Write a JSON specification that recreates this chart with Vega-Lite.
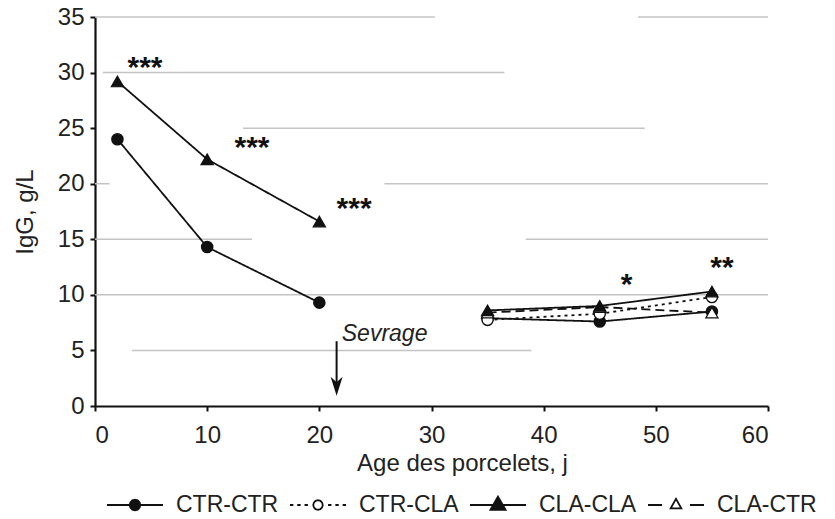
{
  "$schema": "https://vega.github.io/schema/vega-lite/v6.json",
  "width": 673,
  "height": 389,
  "autosize": "none",
  "padding": {"left": 95, "top": 17, "right": 67, "bottom": 113},
  "background": "white",
  "config": {
    "view": {"stroke": null},
    "font": "Liberation Sans",
    "axis": {
      "grid": false,
      "domainColor": "#111",
      "domainWidth": 2.2,
      "tickColor": "#111",
      "tickWidth": 2,
      "tickSize": 5,
      "labelFont": "Liberation Sans",
      "labelFontSize": 24,
      "labelColor": "#222",
      "titleFont": "Liberation Sans",
      "titleFontSize": 24,
      "titleFontWeight": "normal",
      "titleColor": "#222"
    }
  },
  "datasets": {
    "pts": [
      {"series": "CTR-CTR", "phase": "pre", "age": 2, "igg": 24.0},
      {"series": "CTR-CTR", "phase": "pre", "age": 10, "igg": 14.3},
      {"series": "CTR-CTR", "phase": "pre", "age": 20, "igg": 9.3},
      {"series": "CTR-CTR", "phase": "post", "age": 35, "igg": 7.9},
      {"series": "CTR-CTR", "phase": "post", "age": 45, "igg": 7.6},
      {"series": "CTR-CTR", "phase": "post", "age": 55, "igg": 8.5},
      {"series": "CTR-CLA", "phase": "post", "age": 35, "igg": 7.75},
      {"series": "CTR-CLA", "phase": "post", "age": 45, "igg": 8.3},
      {"series": "CTR-CLA", "phase": "post", "age": 55, "igg": 9.8},
      {"series": "CLA-CTR", "phase": "post", "age": 35, "igg": 8.4},
      {"series": "CLA-CTR", "phase": "post", "age": 45, "igg": 8.9},
      {"series": "CLA-CTR", "phase": "post", "age": 55, "igg": 8.4},
      {"series": "CLA-CLA", "phase": "pre", "age": 2, "igg": 29.2},
      {"series": "CLA-CLA", "phase": "pre", "age": 10, "igg": 22.2},
      {"series": "CLA-CLA", "phase": "pre", "age": 20, "igg": 16.6},
      {"series": "CLA-CLA", "phase": "post", "age": 35, "igg": 8.6},
      {"series": "CLA-CLA", "phase": "post", "age": 45, "igg": 9.0},
      {"series": "CLA-CLA", "phase": "post", "age": 55, "igg": 10.3}
    ],
    "grid": [
      {"y": 35, "x0": 0, "x1": 30.3},
      {"y": 35, "x0": 48.4, "x1": 60},
      {"y": 30, "x0": 0.7, "x1": 36.5},
      {"y": 25, "x0": 13.2, "x1": 49.0},
      {"y": 20, "x0": 0, "x1": 1.3},
      {"y": 20, "x0": 25.8, "x1": 60},
      {"y": 15, "x0": 0, "x1": 14.0},
      {"y": 15, "x0": 38.4, "x1": 60},
      {"y": 10, "x0": 0, "x1": 60},
      {"y": 5, "x0": 3.3, "x1": 38.9}
    ],
    "notes": [
      {"age": 4.46, "igg": 29.6, "label": "***"},
      {"age": 14.0, "igg": 22.4, "label": "***"},
      {"age": 23.1, "igg": 16.9, "label": "***"},
      {"age": 47.4, "igg": 10.1, "label": "*"},
      {"age": 55.9, "igg": 11.6, "label": "**"}
    ],
    "wean": [
      {"age": 21.54, "top": 5.83, "bottom": 1.6, "head": 1.82, "textAge": 22.0, "label": "Sevrage"}
    ]
  },
  "layer": [
    {
      "data": {"name": "grid"},
      "mark": {"type": "rule", "color": "#c4c4c4", "strokeWidth": 1.5},
      "encoding": {
        "x": {"field": "x0", "type": "quantitative", "scale": {"domain": [0, 60], "nice": false},
              "axis": {"title": "Age des porcelets, j", "values": [0, 10, 20, 30, 40, 50, 60], "labelPadding": 12, "titlePadding": 4, "titleX": 367}},
        "x2": {"field": "x1"},
        "y": {"field": "y", "type": "quantitative", "scale": {"domain": [0, 35], "nice": false},
              "axis": {"title": "IgG, g/L", "values": [0, 5, 10, 15, 20, 25, 30, 35], "labelPadding": 6, "titlePadding": 20}}
      }
    },
    {
      "data": {"name": "pts"},
      "mark": {"type": "line", "color": "#111", "strokeWidth": 1.8},
      "encoding": {
        "x": {"field": "age", "type": "quantitative"},
        "y": {"field": "igg", "type": "quantitative"},
        "detail": {"field": "phase"},
        "strokeDash": {"field": "series", "type": "nominal",
          "scale": {"domain": ["CTR-CTR", "CLA-CLA", "CTR-CLA", "CLA-CTR"], "range": [[1, 0], [1, 0], [3, 4], [9, 5]]},
          "legend": null}
      }
    },
    {
      "data": {"name": "pts"},
      "transform": [{"filter": "datum.series === 'CTR-CTR'"}],
      "mark": {"type": "point", "shape": "circle", "filled": true, "fill": "#111", "stroke": "#111", "strokeWidth": 1.4, "size": 125, "opacity": 1},
      "encoding": {
        "x": {"field": "age", "type": "quantitative"},
        "y": {"field": "igg", "type": "quantitative"}
      }
    },
    {
      "data": {"name": "pts"},
      "transform": [{"filter": "datum.series === 'CTR-CLA'"}],
      "mark": {"type": "point", "shape": "circle", "filled": true, "fill": "white", "stroke": "#111", "strokeWidth": 1.4, "size": 125, "opacity": 1},
      "encoding": {
        "x": {"field": "age", "type": "quantitative"},
        "y": {"field": "igg", "type": "quantitative"}
      }
    },
    {
      "data": {"name": "pts"},
      "transform": [{"filter": "datum.series === 'CLA-CTR'"}],
      "mark": {"type": "point", "shape": "triangle-up", "filled": true, "fill": "white", "stroke": "#111", "strokeWidth": 1.2, "size": 150, "opacity": 1},
      "encoding": {
        "x": {"field": "age", "type": "quantitative"},
        "y": {"field": "igg", "type": "quantitative"}
      }
    },
    {
      "data": {"name": "pts"},
      "transform": [{"filter": "datum.series === 'CLA-CLA'"}],
      "mark": {"type": "point", "shape": "triangle-up", "filled": true, "fill": "#111", "stroke": "#111", "strokeWidth": 1.2, "size": 150, "opacity": 1},
      "encoding": {
        "x": {"field": "age", "type": "quantitative"},
        "y": {"field": "igg", "type": "quantitative"}
      }
    },
    {
      "data": {"name": "notes"},
      "mark": {"type": "text", "fontSize": 30, "fontWeight": "bold", "color": "#111", "align": "center", "baseline": "alphabetic"},
      "encoding": {
        "x": {"field": "age", "type": "quantitative"},
        "y": {"field": "igg", "type": "quantitative"},
        "text": {"field": "label"}
      }
    },
    {
      "data": {"name": "wean"},
      "mark": {"type": "rule", "color": "#111", "strokeWidth": 2},
      "encoding": {
        "x": {"field": "age", "type": "quantitative"},
        "y": {"field": "top", "type": "quantitative"},
        "y2": {"field": "bottom"}
      }
    },
    {
      "data": {"name": "wean"},
      "mark": {"type": "point", "shape": "M0,1L-0.6,-0.9L0,-0.35L0.6,-0.9Z", "filled": true, "color": "#111", "size": 400, "opacity": 1},
      "encoding": {
        "x": {"field": "age", "type": "quantitative"},
        "y": {"field": "head", "type": "quantitative"}
      }
    },
    {
      "data": {"name": "wean"},
      "mark": {"type": "text", "fontSize": 23, "fontStyle": "italic", "color": "#222", "align": "left", "baseline": "alphabetic"},
      "encoding": {
        "x": {"field": "textAge", "type": "quantitative"},
        "y": {"field": "top", "type": "quantitative"},
        "text": {"field": "label"}
      }
    },
    {
      "data": {"name": "pts"},
      "transform": [{"filter": "false"}],
      "mark": {"type": "point", "filled": true, "stroke": "#111", "strokeWidth": 1.8, "opacity": 1},
      "encoding": {
        "x": {"field": "age", "type": "quantitative"},
        "y": {"field": "igg", "type": "quantitative"},
        "shape": {"field": "series", "type": "nominal",
          "scale": {"domain": ["CTR-CTR", "CTR-CLA", "CLA-CLA", "CLA-CTR"],
            "range": [
              "M-1,0L1,0M0.19,0L0.165,0.095L0.095,0.165L0,0.19L-0.095,0.165L-0.165,0.095L-0.19,0L-0.165,-0.095L-0.095,-0.165L0,-0.19L0.095,-0.165L0.165,-0.095Z",
              "M-1,0L-0.88,0M-0.74,0L-0.62,0M-0.48,0L-0.36,0M0.36,0L0.48,0M0.62,0L0.74,0M0.88,0L1,0M0.17,0L0.147,0.085L0.085,0.147L0,0.17L-0.085,0.147L-0.147,0.085L-0.17,0L-0.147,-0.085L-0.085,-0.147L0,-0.17L0.085,-0.147L0.147,-0.085Z",
              "M-1,0L1,0M0,-0.3L0.27,0.17L-0.27,0.17Z",
              "M-1,0L-0.5,0M0.5,0L1,0M0,-0.22L0.19,0.12L-0.19,0.12Z"
            ]},
          "legend": {"orient": "none", "legendX": 11, "legendY": 459, "direction": "horizontal", "columns": 4, "title": null,
            "symbolSize": 3136, "symbolStrokeWidth": 1.8, "symbolStrokeColor": "#111", "symbolOpacity": 1,
            "labelFontSize": 23, "labelFont": "Liberation Sans", "labelColor": "#222", "labelOffset": 12, "columnPadding": 7, "padding": 0,
            "encode": {"symbols": {"update": {"stroke": {"value": "#111"}, "strokeWidth": {"value": 1.8}, "opacity": {"value": 1}}}}}},
        "fill": {"field": "series", "type": "nominal",
          "scale": {"domain": ["CTR-CTR", "CTR-CLA", "CLA-CLA", "CLA-CTR"], "range": ["#111", "white", "#111", "white"]},
          "legend": {"orient": "none", "legendX": 11, "legendY": 459, "direction": "horizontal", "columns": 4, "title": null,
            "symbolSize": 3136, "symbolStrokeWidth": 1.8, "symbolStrokeColor": "#111", "symbolOpacity": 1,
            "labelFontSize": 23, "labelFont": "Liberation Sans", "labelColor": "#222", "labelOffset": 12, "columnPadding": 7, "padding": 0,
            "encode": {"symbols": {"update": {"stroke": {"value": "#111"}, "strokeWidth": {"value": 1.8}, "opacity": {"value": 1}}}}}}
      }
    }
  ]
}
